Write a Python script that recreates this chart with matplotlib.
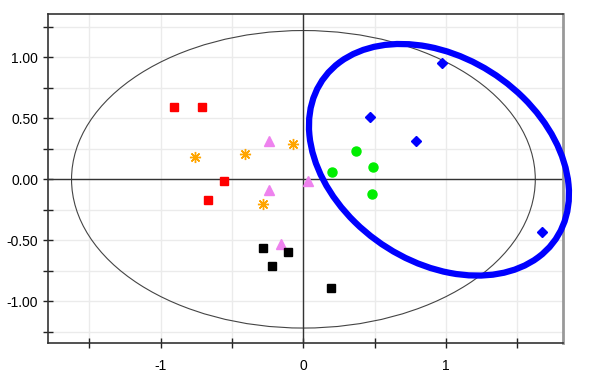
import matplotlib.pyplot as plt
from matplotlib.patches import Ellipse
from matplotlib.ticker import MultipleLocator, FixedLocator, FixedFormatter

plt.rcParams['font.family'] = ['Liberation Sans', 'DejaVu Sans']

# group scores (x, y)
red_x = [-0.91, -0.71, -0.56, -0.67]
red_y = [0.59, 0.59, -0.01, -0.17]
orange_x = [-0.76, -0.41, -0.07, -0.28]
orange_y = [0.18, 0.21, 0.29, -0.20]
violet_x = [-0.24, -0.24, -0.16, 0.03]
violet_y = [0.31, -0.09, -0.53, -0.01]
black_x = [-0.28, -0.22, -0.11, 0.19]
black_y = [-0.56, -0.71, -0.60, -0.89]
green_x = [0.37, 0.20, 0.49, 0.48]
green_y = [0.23, 0.06, 0.10, -0.12]
blue_x = [0.97, 0.47, 0.79, 1.67]
blue_y = [0.95, 0.51, 0.31, -0.43]

x_ticks = [-1, 0, 1]
y_ticks = [1.0, 0.5, 0.0, -0.5, -1.0]

fig = plt.figure(figsize=(5.94, 3.80), dpi=100)
ax = fig.add_axes([0.0808, 0.0966, 0.8672, 0.8654])

ax.set_xlim(-1.79, 1.82)
ax.set_ylim(-1.345, 1.352)

# grid at every tick
ax.xaxis.set_major_locator(FixedLocator(x_ticks))
ax.xaxis.set_major_formatter(FixedFormatter([str(v) for v in x_ticks]))
ax.xaxis.set_minor_locator(MultipleLocator(0.5))
ax.yaxis.set_major_locator(FixedLocator(y_ticks))
ax.yaxis.set_major_formatter(FixedFormatter(['%.2f' % v for v in y_ticks]))
ax.yaxis.set_minor_locator(MultipleLocator(0.25))
ax.grid(True, which='both', color='#ebebeb', linewidth=1)
ax.set_axisbelow(True)
ax.tick_params(which='both', direction='inout', length=7, width=1, color='#222222',
               labelsize=10)
ax.tick_params(axis='x', pad=8)

for s in ['left', 'bottom', 'top']:
    ax.spines[s].set_color('#333333')
    ax.spines[s].set_linewidth(1.2)
ax.spines['right'].set_color('#999999')
ax.spines['right'].set_linewidth(2)

ax.axhline(0, color='#333333', linewidth=1)
ax.axvline(0, color='#333333', linewidth=1)

# reference ellipse and confidence ellipse
ax.add_patch(Ellipse((0, 0), 3.25, 2.44, fill=False, edgecolor='#444444', linewidth=0.8))
ax.add_patch(Ellipse((0.95, 0.16), 2.12, 1.56, angle=-49, fill=False,
                     edgecolor='#0000ff', linewidth=4.5, clip_on=False, zorder=5))

ax.plot(red_x, red_y, 's', color='#ff0000', markersize=5.5, linestyle='none')
ax.plot(orange_x, orange_y, marker=(8, 2, 0), color='#ffa500', markersize=8,
        markeredgewidth=1, linestyle='none')
ax.plot(violet_x, violet_y, '^', color='#ee82ee', markersize=6.5, linestyle='none')
ax.plot(black_x, black_y, 's', color='#000000', markersize=5.5, linestyle='none')
ax.plot(green_x, green_y, 'o', color='#00ee00', markersize=6.5, linestyle='none')
ax.plot(blue_x, blue_y, 'D', color='#0000ff', markersize=5.5, linestyle='none')

fig.savefig('out.png', dpi=100)
